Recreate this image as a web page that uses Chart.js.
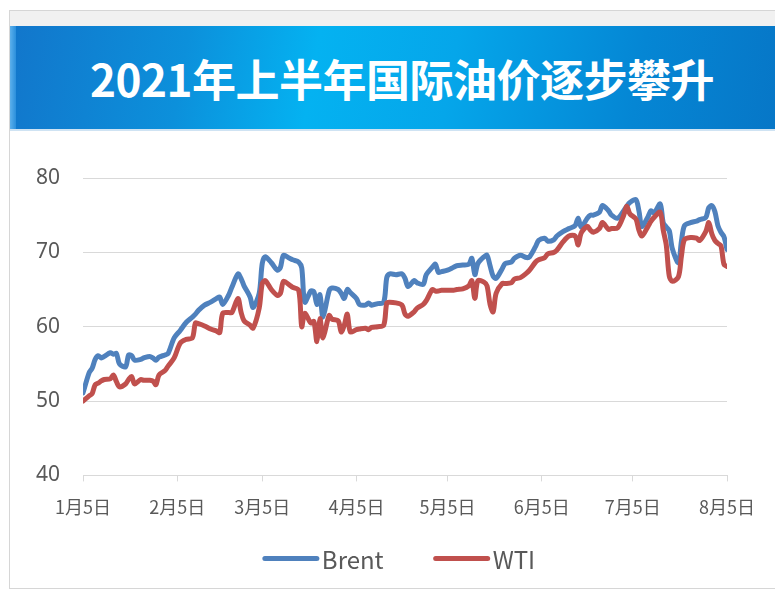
<!DOCTYPE html>
<html>
<head>
<meta charset="utf-8">
<script src="https://cdn.jsdelivr.net/npm/chart.js@4.4.1/dist/chart.umd.min.js"></script>
<style>
  html, body { margin: 0; padding: 0; background: #fff; }
  #page { position: relative; width: 775px; height: 591px; overflow: hidden; }
  #card {
    position: absolute; left: 9px; top: 10px; width: 800px; height: 577px;
    border: 1px solid #d6d6d6; background: #fff;
  }
  #strip { position: absolute; left: 0; top: 0; right: 0; height: 15px; background: #f1f1f1; }
  #banner {
    position: absolute; left: 0; top: 15px; right: 0; height: 103px;
    background: linear-gradient(100deg, #1276cb 0%, #0c90db 22%, #04b2f1 38%, #05a6ea 55%, #0586d4 78%, #0773c4 100%);
    border-bottom: 2px solid #cfe3f3;
  }
  #banner:before {
    content: ""; position: absolute; left: 0; top: 0; width: 6px; bottom: 0;
    background: linear-gradient(90deg, #5cb0ec, #2a8fdc);
  }
  #title {
    position: absolute; left: 0; width: 784px; top: 25px; text-align: center;
    font-family: "Noto Sans CJK SC", sans-serif; font-weight: 700; font-size: 44px;
    color: #fff; line-height: 54px; letter-spacing: -0.5px;
  }
  #chartBox { position: absolute; left: 0; top: 0; width: 775px; height: 591px; }
</style>
</head>
<body>
<div id="page">
  <div id="card">
    <div id="strip"></div>
    <div id="banner"><div id="title">2021年上半年国际油价逐步攀升</div></div>
  </div>
  <div id="chartBox"><canvas id="oilChart"></canvas></div>
</div>
<script>
// day of year 2021 (Jan 5 = 5)
const days = [5,7,8,9,10,11,12,14,15,16,17,19,20,21,22,24,25,27,28,29,30,32,33,35,37,39,41,42,43,45,47,49,50,51,53,54,56,57,58,60,61,63,64,65,67,69,70,71,73,74,76,77,78,80,81,82,83,84,86,87,89,90,91,92,93,95,96,98,99,100,102,104,105,106,108,110,111,112,114,115,117,118,120,121,122,123,125,127,128,130,132,133,134,135,137,138,139,140,141,143,144,146,147,149,151,152,154,155,157,158,160,161,163,165,167,168,169,171,172,173,175,176,178,179,181,183,184,185,187,188,189,191,192,193,195,196,197,198,199,201,202,203,205,207,208,210,211,212,213,214,215,216,217];

const brent = [51.1,53.8,54.4,55.6,56.1,55.8,56.0,56.5,56.3,56.4,55.0,54.6,56.2,56.1,55.5,55.6,55.8,56.0,55.8,55.5,55.9,56.2,56.4,58.5,59.5,60.6,61.3,61.7,62.2,62.9,63.3,63.8,64.0,63.0,64.3,65.3,67.1,66.5,65.5,64.0,62.6,64.5,68.5,69.4,68.6,67.6,68.0,69.6,69.2,69.0,68.7,67.9,63.3,64.8,64.7,63.0,64.3,61.3,64.8,65.2,65.0,64.5,63.8,65.0,64.6,63.8,63.0,62.9,63.2,62.9,63.1,63.3,66.6,67.1,67.0,67.1,66.5,65.4,66.2,65.9,65.7,67.0,68.0,68.4,67.3,67.4,67.6,68.0,68.2,68.3,68.4,69.2,67.0,68.5,69.4,69.6,68.2,66.8,66.5,67.8,68.5,68.7,69.2,69.6,69.3,69.4,70.8,71.6,71.9,71.5,71.7,72.2,72.8,73.2,73.6,74.6,73.4,74.6,75.0,75.0,75.4,76.3,75.6,75.0,74.6,75.6,76.2,76.7,77.1,75.6,73.5,74.8,75.6,75.3,76.5,74.0,73.4,72.9,70.5,68.6,71.5,73.6,74.0,74.2,74.4,74.7,76.0,76.3,75.5,73.6,72.7,72.1,70.4];

const wti = [50.0,50.7,51.0,52.2,52.4,52.7,52.9,53.0,53.5,52.6,51.9,52.3,52.9,53.3,52.3,52.9,52.8,52.8,52.7,52.2,53.5,54.1,54.7,55.8,57.8,58.3,58.5,60.5,60.4,60.1,59.7,59.4,59.2,61.8,61.9,61.9,63.8,62.0,60.8,60.2,59.8,62.5,65.8,66.2,65.0,64.2,64.5,66.1,65.6,65.3,64.9,60.0,61.8,60.5,60.7,58.0,61.1,58.5,61.5,61.0,60.8,59.3,60.2,61.7,59.3,59.6,59.7,59.8,59.6,59.9,60.0,60.2,63.2,63.3,63.2,62.9,61.7,61.4,62.0,62.5,63.0,63.5,65.0,64.8,64.8,64.9,64.9,64.9,65.0,65.1,65.5,66.2,63.8,66.2,66.0,65.5,63.0,62.0,64.5,65.8,65.8,65.9,66.4,66.6,67.2,67.6,68.7,69.0,69.3,69.8,70.0,70.3,71.4,72.2,72.2,71.0,72.6,73.5,73.0,72.7,73.2,74.0,73.1,73.2,73.3,75.0,76.2,75.2,74.5,73.0,72.2,73.5,74.2,74.7,75.4,73.0,71.0,66.8,66.1,66.7,69.5,71.7,72.0,71.9,71.6,72.8,74.0,72.5,71.6,71.2,70.9,68.4,68.1];

const tickDays = [5, 36, 64, 95, 125, 156, 186, 217];
const tickLabels = ["1月5日", "2月5日", "3月5日", "4月5日", "5月5日", "6月5日", "7月5日", "8月5日"];
const seriesNames = ["Brent", "WTI"];
const seriesColors = ["#4f81bd", "#c0504d"];

const textColor = "#595959";
const gridColor = "#d9d9d9";
const baseFont = "'Noto Sans CJK SC', 'Noto Sans', sans-serif";

// simple legend drawn under the axis, line sample + name
const lineLegend = {
  id: "lineLegend",
  afterDraw(chart) {
    const ctx = chart.ctx;
    const area = chart.chartArea;
    const y = area.bottom + 83;
    const sample = 56, gap = 3, itemGap = 50;
    ctx.save();
    ctx.font = "24px " + baseFont;
    const items = chart.data.datasets.map(ds => ({
      label: ds.label, color: ds.borderColor, w: sample + gap + ctx.measureText(ds.label).width
    }));
    const total = items.reduce((a, it) => a + it.w, 0) + itemGap * (items.length - 1);
    let x = (area.left + area.right) / 2 - 6 - total / 2;
    items.forEach(it => {
      ctx.strokeStyle = it.color;
      ctx.lineWidth = 5;
      ctx.lineCap = "round";
      ctx.beginPath();
      ctx.moveTo(x + 2, y);
      ctx.lineTo(x + sample - 2, y);
      ctx.stroke();
      ctx.fillStyle = textColor;
      ctx.textBaseline = "middle";
      ctx.fillText(it.label, x + sample + gap, y + 1);
      x += it.w + itemGap;
    });
    ctx.restore();
  }
};

const toPoints = vals => vals.map((v, i) => ({ x: days[i], y: v }));

new Chart(document.getElementById("oilChart").getContext("2d"), {
  type: "line",
  data: {
    datasets: [
      { label: seriesNames[0], data: toPoints(brent), borderColor: seriesColors[0], order: 1 },
      { label: seriesNames[1], data: toPoints(wti), borderColor: seriesColors[1], order: 0 }
    ]
  },
  options: {
    responsive: true,
    maintainAspectRatio: false,
    animation: false,
    layout: { padding: { left: 13, right: 48, top: 178, bottom: 58 } },
    elements: {
      line: { borderWidth: 5, tension: 0.3, borderJoinStyle: "round", borderCapStyle: "round", fill: false },
      point: { radius: 0, hoverRadius: 0 }
    },
    plugins: {
      legend: { display: false },
      tooltip: { enabled: false }
    },
    scales: {
      x: {
        type: "linear",
        min: 5,
        max: 217,
        afterBuildTicks: scale => { scale.ticks = tickDays.map(v => ({ value: v })); },
        grid: { drawOnChartArea: false, color: gridColor, tickLength: 6 },
        border: { color: gridColor, width: 1 },
        ticks: {
          autoSkip: false, maxRotation: 0, padding: 15,
          color: textColor, font: { family: baseFont, size: 18 },
          callback: (v, i) => tickLabels[i]
        }
      },
      y: {
        min: 40,
        max: 80,
        grid: { color: gridColor, drawTicks: false },
        border: { display: false },
        ticks: {
          stepSize: 10, padding: 23,
          color: textColor, font: { family: "'Noto Sans', sans-serif", size: 21 }
        }
      }
    }
  },
  plugins: [lineLegend]
});
</script>
</body>
</html>
